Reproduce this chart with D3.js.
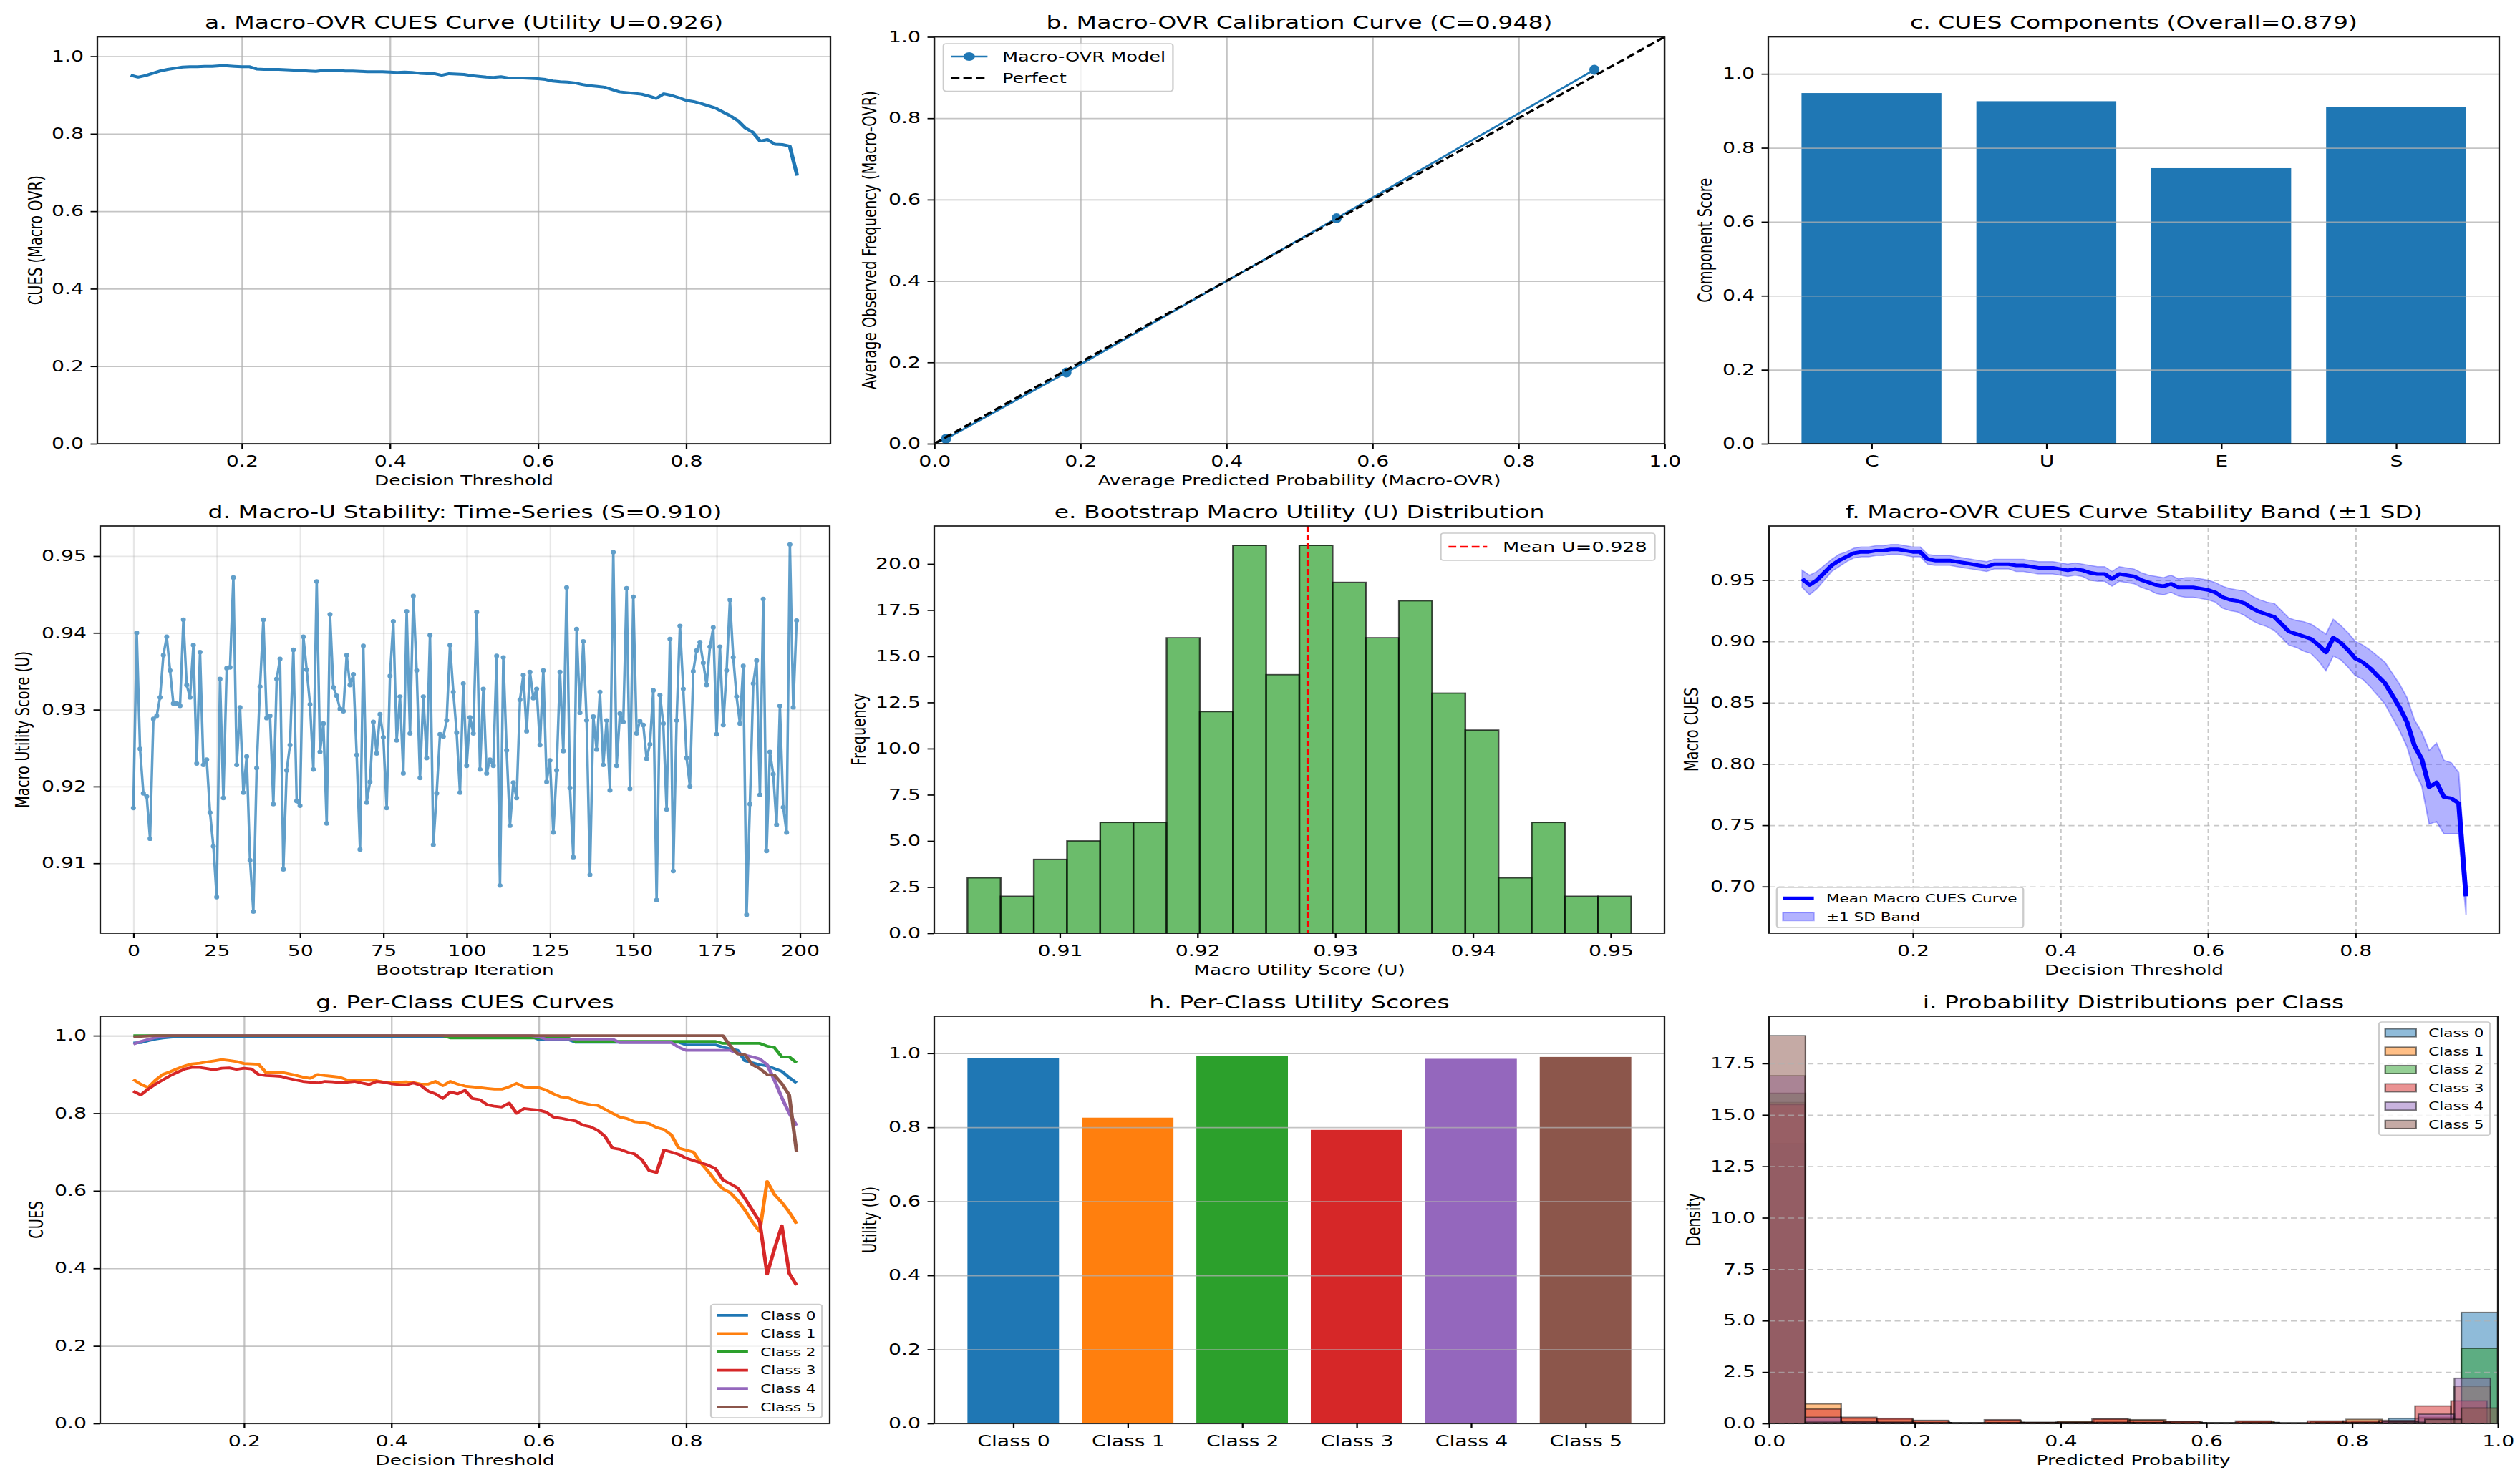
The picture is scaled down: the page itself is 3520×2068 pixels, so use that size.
<!DOCTYPE html>
<html><head><meta charset="utf-8">
<script src="https://cdn.jsdelivr.net/npm/d3@7/dist/d3.min.js"></script>
<style>html,body{margin:0;padding:0;background:#fff;overflow:hidden}</style>
</head><body>
<svg id="fig"></svg>
<script>
// ================= DATA =================
const thresholds = d3.range(5, 96).map(i => i / 100);

const macroCues = [
 0.951,0.946,0.950,0.956,0.962,0.966,0.969,0.972,0.973,0.973,
 0.974,0.974,0.975,0.975,0.974,0.973,0.973,0.967,0.966,0.966,
 0.966,0.965,0.964,0.963,0.962,0.961,0.963,0.963,0.963,0.962,
 0.962,0.961,0.960,0.960,0.960,0.959,0.958,0.959,0.958,0.956,
 0.955,0.955,0.951,0.955,0.954,0.953,0.950,0.948,0.946,0.945,
 0.947,0.944,0.944,0.944,0.943,0.942,0.940,0.936,0.934,0.933,
 0.931,0.927,0.924,0.922,0.920,0.914,0.908,0.906,0.904,0.902,
 0.897,0.891,0.903,0.899,0.893,0.886,0.883,0.878,0.872,0.866,
 0.856,0.846,0.834,0.815,0.804,0.781,0.785,0.773,0.772,0.768,
 0.692];

const macroCuesSD = [
 0.007,0.008,0.007,0.006,0.005,0.005,0.004,0.004,0.004,0.004,
 0.004,0.004,0.004,0.004,0.004,0.004,0.004,0.004,0.004,0.004,
 0.004,0.004,0.004,0.004,0.004,0.004,0.004,0.004,0.004,0.005,
 0.005,0.005,0.005,0.005,0.005,0.005,0.005,0.005,0.005,0.006,
 0.006,0.006,0.006,0.006,0.006,0.006,0.006,0.006,0.007,0.007,
 0.007,0.007,0.008,0.008,0.008,0.008,0.008,0.009,0.009,0.009,
 0.010,0.010,0.010,0.010,0.011,0.011,0.011,0.011,0.012,0.012,
 0.013,0.015,0.015,0.014,0.014,0.014,0.014,0.015,0.016,0.017,
 0.018,0.019,0.020,0.021,0.022,0.030,0.032,0.030,0.029,0.025,
 0.015];

const calibPred = [0.016, 0.181, 0.551, 0.904];
const calibObs  = [0.012, 0.175, 0.554, 0.919];

const componentNames  = ['C', 'U', 'E', 'S'];
const componentScores = [0.948, 0.926, 0.745, 0.910];

const bootstrapU = [
 0.9172,0.9400,0.9249,0.9191,0.9187,0.9132,0.9288,0.9292,0.9316,0.9371,
 0.9395,0.9351,0.9308,0.9308,0.9305,0.9417,0.9332,0.9316,0.9384,0.9230,
 0.9375,0.9228,0.9235,0.9166,0.9122,0.9056,0.9340,0.9185,0.9354,0.9355,
 0.9472,0.9228,0.9303,0.9192,0.9239,0.9104,0.9037,0.9224,0.9330,0.9417,
 0.9289,0.9292,0.9177,0.9340,0.9366,0.9092,0.9221,0.9254,0.9378,0.9181,
 0.9175,0.9395,0.9352,0.9307,0.9222,0.9467,0.9245,0.9282,0.9152,0.9424,
 0.9329,0.9318,0.9301,0.9298,0.9371,0.9332,0.9346,0.9241,0.9118,0.9383,
 0.9179,0.9206,0.9284,0.9243,0.9294,0.9264,0.9172,0.9344,0.9415,0.9260,
 0.9317,0.9217,0.9428,0.9269,0.9448,0.9351,0.9211,0.9317,0.9237,0.9397,
 0.9124,0.9191,0.9268,0.9265,0.9286,0.9384,0.9323,0.9270,0.9192,0.9334,
 0.9227,0.9290,0.9269,0.9427,0.9222,0.9327,0.9217,0.9235,0.9227,0.9370,
 0.9071,0.9368,0.9247,0.9149,0.9205,0.9185,0.9313,0.9345,0.9272,0.9349,
 0.9315,0.9327,0.9254,0.9351,0.9206,0.9234,0.9140,0.9221,0.9349,0.9246,
 0.9459,0.9198,0.9108,0.9405,0.9296,0.9389,0.9286,0.9085,0.9291,0.9248,
 0.9323,0.9228,0.9286,0.9195,0.9505,0.9227,0.9295,0.9284,0.9458,0.9197,
 0.9447,0.9269,0.9285,0.9280,0.9236,0.9255,0.9325,0.9052,0.9319,0.9282,
 0.9170,0.9392,0.9090,0.9286,0.9409,0.9327,0.9237,0.9200,0.9350,0.9377,
 0.9388,0.9361,0.9332,0.9382,0.9407,0.9268,0.9382,0.9280,0.9351,0.9443,
 0.9368,0.9317,0.9282,0.9357,0.9033,0.9177,0.9334,0.9364,0.9189,0.9444,
 0.9116,0.9245,0.9216,0.9150,0.9305,0.9173,0.9140,0.9515,0.9303,0.9416];

const histCounts = [3,2,4,5,6,6,16,12,21,14,21,19,16,18,13,11,3,6,2,2];
const meanU = 0.928;

const classNames = ['Class 0','Class 1','Class 2','Class 3','Class 4','Class 5'];
const classColors = ['#1f77b4','#ff7f0e','#2ca02c','#d62728','#9467bd','#8c564b'];

const cuesClass0 = [
 0.981,0.982,0.987,0.991,0.994,0.996,0.997,0.997,0.997,0.997,
 0.997,0.997,0.997,0.997,0.997,0.997,0.997,0.997,0.997,0.997,
 0.997,0.997,0.997,0.997,0.997,0.997,0.997,0.997,0.997,0.997,
 0.997,0.998,0.998,0.998,0.998,0.998,0.998,0.998,0.998,0.998,
 0.998,0.998,0.998,0.998,0.998,0.998,0.998,0.998,0.998,0.998,
 0.998,0.998,0.998,0.998,0.998,0.990,0.990,0.990,0.990,0.990,
 0.983,0.983,0.983,0.983,0.983,0.983,0.983,0.983,0.983,0.983,
 0.983,0.983,0.983,0.983,0.983,0.976,0.976,0.976,0.976,0.976,
 0.970,0.966,0.962,0.935,0.930,0.925,0.922,0.915,0.908,0.892,
 0.878];
const cuesClass1 = [
 0.887,0.875,0.866,0.885,0.900,0.907,0.915,0.922,0.927,0.929,
 0.932,0.935,0.938,0.936,0.933,0.928,0.927,0.926,0.905,0.905,
 0.906,0.902,0.898,0.893,0.890,0.900,0.897,0.895,0.893,0.886,
 0.885,0.886,0.885,0.884,0.880,0.878,0.880,0.881,0.879,0.875,
 0.875,0.882,0.871,0.882,0.875,0.870,0.868,0.866,0.864,0.862,
 0.862,0.868,0.877,0.868,0.866,0.866,0.860,0.850,0.842,0.840,
 0.832,0.826,0.822,0.820,0.810,0.800,0.790,0.786,0.778,0.776,
 0.773,0.763,0.758,0.744,0.710,0.705,0.700,0.672,0.650,0.625,
 0.605,0.595,0.575,0.550,0.520,0.495,0.624,0.590,0.570,0.545,
 0.515];
const cuesClass2 = [
 1.000,1.000,1.000,1.000,1.000,1.000,1.000,1.000,1.000,1.000,
 1.000,1.000,1.000,1.000,1.000,1.000,1.000,1.000,1.000,1.000,
 1.000,1.000,1.000,1.000,1.000,1.000,1.000,1.000,1.000,1.000,
 1.000,1.000,1.000,1.000,1.000,1.000,1.000,1.000,1.000,1.000,
 1.000,1.000,1.000,0.994,0.994,0.994,0.994,0.994,0.994,0.994,
 0.994,0.994,0.994,0.994,0.994,0.994,0.994,0.994,0.994,0.994,
 0.985,0.985,0.985,0.985,0.985,0.985,0.985,0.985,0.985,0.985,
 0.985,0.985,0.985,0.985,0.985,0.985,0.985,0.985,0.985,0.985,
 0.980,0.980,0.980,0.980,0.980,0.980,0.973,0.969,0.945,0.945,
 0.930];
const cuesClass3 = [
 0.857,0.847,0.862,0.875,0.886,0.897,0.906,0.914,0.918,0.918,
 0.915,0.912,0.916,0.917,0.913,0.916,0.914,0.900,0.897,0.896,
 0.895,0.890,0.886,0.882,0.880,0.878,0.882,0.881,0.879,0.880,
 0.882,0.878,0.874,0.882,0.880,0.876,0.874,0.873,0.878,0.872,
 0.857,0.850,0.838,0.855,0.850,0.859,0.838,0.835,0.822,0.818,
 0.816,0.826,0.800,0.812,0.810,0.808,0.803,0.790,0.787,0.783,
 0.780,0.769,0.765,0.756,0.740,0.710,0.707,0.700,0.695,0.680,
 0.652,0.647,0.705,0.700,0.694,0.684,0.678,0.672,0.666,0.657,
 0.628,0.618,0.607,0.580,0.550,0.520,0.385,0.450,0.510,0.387,
 0.356];
const cuesClass4 = [
 0.978,0.985,0.990,0.995,0.998,1.000,1.000,1.000,1.000,1.000,
 1.000,1.000,1.000,1.000,1.000,1.000,1.000,1.000,1.000,1.000,
 1.000,1.000,1.000,1.000,1.000,1.000,1.000,1.000,1.000,1.000,
 1.000,1.000,1.000,1.000,1.000,1.000,1.000,1.000,1.000,1.000,
 1.000,1.000,1.000,1.000,1.000,1.000,1.000,1.000,1.000,1.000,
 1.000,1.000,1.000,1.000,1.000,0.997,0.991,0.991,0.991,0.991,
 0.991,0.991,0.991,0.991,0.991,0.991,0.982,0.982,0.982,0.982,
 0.982,0.982,0.982,0.982,0.970,0.962,0.962,0.962,0.962,0.962,
 0.962,0.962,0.955,0.950,0.945,0.940,0.925,0.885,0.840,0.800,
 0.768];
const cuesClass5 = [
 0.997,0.998,0.999,1.000,1.000,1.000,1.000,1.000,1.000,1.000,
 1.000,1.000,1.000,1.000,1.000,1.000,1.000,1.000,1.000,1.000,
 1.000,1.000,1.000,1.000,1.000,1.000,1.000,1.000,1.000,1.000,
 1.000,1.000,1.000,1.000,1.000,1.000,1.000,1.000,1.000,1.000,
 1.000,1.000,1.000,1.000,1.000,1.000,1.000,1.000,1.000,1.000,
 1.000,1.000,1.000,1.000,1.000,1.000,1.000,1.000,1.000,1.000,
 1.000,1.000,1.000,1.000,1.000,1.000,1.000,1.000,1.000,1.000,
 1.000,1.000,1.000,1.000,1.000,1.000,1.000,1.000,1.000,1.000,
 1.000,0.973,0.953,0.950,0.925,0.915,0.900,0.898,0.876,0.847,
 0.700];

const classUtility = [0.987, 0.826, 0.993, 0.793, 0.985, 0.990];

// per-class probability histograms (20 bins between 0 and each class's max prob)
const probBinMax = [1.000, 0.990, 1.000, 0.985, 0.990, 1.000];
const probDensity0 = [13.6,0.12,0.06,0.05,0.04,0.02,0.05,0.03,0.04,0.06,0.05,0.03,0.02,0.05,0.02,0.04,0.05,0.25,0.20,5.40];
const probDensity1 = [15.6,0.95,0.25,0.20,0.12,0.03,0.15,0.05,0.10,0.20,0.18,0.08,0.03,0.10,0.02,0.10,0.20,0.10,0.30,1.80];
const probDensity2 = [16.05,0.10,0.05,0.05,0.03,0.01,0.03,0.02,0.03,0.05,0.05,0.02,0.01,0.03,0.01,0.03,0.05,0.10,0.20,3.65];
const probDensity3 = [15.5,0.70,0.30,0.25,0.15,0.03,0.18,0.05,0.06,0.22,0.15,0.10,0.03,0.12,0.02,0.12,0.12,0.15,0.85,1.10];
const probDensity4 = [16.9,0.30,0.08,0.06,0.04,0.01,0.04,0.02,0.03,0.05,0.04,0.02,0.01,0.03,0.01,0.03,0.04,0.10,0.45,2.20];
const probDensity5 = [18.85,0.05,0.03,0.03,0.02,0.01,0.02,0.01,0.02,0.03,0.03,0.02,0.01,0.02,0.01,0.02,0.02,0.05,0.20,0.75];

const ticksThreshold = [0.2, 0.4, 0.6, 0.8];
const ticksUnit = [0, 0.2, 0.4, 0.6, 0.8, 1.0];
const ticksIter = [0, 25, 50, 75, 100, 125, 150, 175, 200];
const ticksU = [0.91, 0.92, 0.93, 0.94, 0.95];
const ticksFreq = [0, 2.5, 5, 7.5, 10, 12.5, 15, 17.5, 20];
const ticksBandY = [0.70, 0.75, 0.80, 0.85, 0.90, 0.95];
const ticksDensity = [0, 2.5, 5, 7.5, 10, 12.5, 15, 17.5];

// ================= RENDER =================
const SX = 1.35;              // horizontal stretch of the figure
const W = 3520, H = 2068, VW = W / SX;
const FONT = '"DejaVu Sans", "Liberation Sans", sans-serif';
const FS_TITLE = 24.5, FS_TICK = 21, FS_LABEL = 19.5;

const svg = d3.select('#fig')
  .attr('width', W).attr('height', H)
  .attr('viewBox', `0 0 ${VW} ${H}`)
  .attr('preserveAspectRatio', 'none')
  .style('display', 'block');
svg.append('rect').attr('width', VW).attr('height', H).attr('fill', '#fff');

function styleTicks(sel) {
  sel.attr('font-family', null).attr('font-size', null);
  sel.select('.domain').remove();
  sel.selectAll('.tick line').attr('stroke', '#000').attr('stroke-width', 1.7);
  sel.selectAll('.tick text').attr('fill', '#000')
    .style('font-size', FS_TICK + 'px').style('font-family', FONT);
}

function makeAxes(o) {
  const L = o.left / SX, R = o.right / SX, T = o.top, B = o.bottom;
  const x = d3.scaleLinear().domain(o.xd).range([L, R]);
  const y = d3.scaleLinear().domain(o.yd).range([B, T]);
  const g = svg.append('g');
  const below = g.append('g'), content = g.append('g'), above = g.append('g');
  const gs = Object.assign({ color: '#b0b0b0', width: 1.7, opacity: 1, dash: null, above: false }, o.grid || {});
  const gridLayer = gs.above ? content.append('g').attr('class', 'grid-above') : below;
  function styleGrid(sel) {
    sel.attr('font-family', null).attr('font-size', null);
    sel.select('.domain').remove();
    sel.selectAll('.tick text').remove();
    sel.selectAll('.tick line').attr('stroke', gs.color).attr('stroke-width', gs.width)
      .attr('stroke-opacity', gs.opacity).attr('stroke-dasharray', gs.dash);
  }
  if (o.gridX) gridLayer.append('g').attr('transform', `translate(0,${B})`)
    .call(d3.axisBottom(x).tickValues(o.xt).tickSize(-(B - T)).tickFormat('')).call(styleGrid);
  if (o.gridY) gridLayer.append('g').attr('transform', `translate(${L},0)`)
    .call(d3.axisLeft(y).tickValues(o.yt).tickSize(-(R - L)).tickFormat('')).call(styleGrid);

  above.append('rect').attr('x', L).attr('y', T).attr('width', R - L).attr('height', B - T)
    .attr('fill', 'none').attr('stroke', '#1a1a1a').attr('stroke-width', 1.7);
  above.append('g').attr('transform', `translate(0,${B})`)
    .call(d3.axisBottom(x).tickValues(o.xt).tickFormat(o.xf).tickSize(7).tickPadding(10).tickSizeOuter(0))
    .call(styleTicks);
  above.append('g').attr('transform', `translate(${L},0)`)
    .call(d3.axisLeft(y).tickValues(o.yt).tickFormat(o.yf).tickSize(7).tickPadding(7).tickSizeOuter(0))
    .call(styleTicks);

  above.append('text').attr('x', (L + R) / 2).attr('y', T - 11).attr('text-anchor', 'middle')
    .style('font-family', FONT).style('font-size', FS_TITLE + 'px').attr('fill', '#000').text(o.title);
  above.append('text').attr('x', (L + R) / 2).attr('y', B + 58).attr('text-anchor', 'middle')
    .style('font-family', FONT).style('font-size', FS_LABEL + 'px').attr('fill', '#000').text(o.xlabel);
  const ly = (T + B) / 2, lx = L - o.ylOff;
  above.append('text').attr('transform', `translate(${lx},${ly}) rotate(-90)`).attr('dy', '0.35em')
    .attr('text-anchor', 'middle')
    .style('font-family', FONT).style('font-size', FS_LABEL + 'px').attr('fill', '#000').text(o.ylabel);
  return { g, x, y, content, above, L, R, T, B };
}

function legend(ax, o) {
  const fs = o.fs, pad = 0.4 * fs, hl = 2 * fs, htp = 0.8 * fs, ls = 0.5 * fs, bap = 0.5 * fs, rh = 1.1 * fs;
  const g = ax.above.append('g');
  const frame = g.append('rect');
  const texts = o.items.map(it => g.append('text').text(it.label)
    .style('font-size', fs + 'px').style('font-family', FONT).attr('fill', '#000'));
  const tw = d3.max(texts, t => t.node().getComputedTextLength());
  const n = o.items.length;
  const bw = 2 * pad + hl + htp + tw, bh = 2 * pad + n * rh + (n - 1) * ls;
  const bx = o.corner[1] === 'l' ? ax.L + bap : ax.R - bap - bw;
  const by = o.corner[0] === 'u' ? ax.T + bap : ax.B - bap - bh;
  frame.attr('x', bx).attr('y', by).attr('width', bw).attr('height', bh).attr('rx', 3)
    .attr('fill', '#fff').attr('fill-opacity', 0.8).attr('stroke', '#cccccc').attr('stroke-width', 1.7);
  o.items.forEach((it, i) => {
    const cy = by + pad + i * (rh + ls) + rh / 2;
    const hx0 = bx + pad, hx1 = hx0 + hl;
    if (it.type === 'patch') {
      g.append('rect').attr('x', hx0).attr('y', cy - 0.35 * fs).attr('width', hl).attr('height', 0.7 * fs)
        .attr('fill', it.color).attr('fill-opacity', it.opacity)
        .attr('stroke', it.edge || 'none').attr('stroke-opacity', it.edgeOpacity || 1).attr('stroke-width', 1.7);
    } else {
      g.append('line').attr('x1', hx0).attr('x2', hx1).attr('y1', cy).attr('y2', cy)
        .attr('stroke', it.color).attr('stroke-width', it.width).attr('stroke-dasharray', it.dash || null);
      if (it.marker) g.append('ellipse').attr('cx', (hx0 + hx1) / 2).attr('cy', cy)
        .attr('rx', it.marker).attr('ry', it.marker).attr('fill', it.color);
    }
    texts[i].attr('x', hx1 + htp).attr('y', cy).attr('dy', '0.36em');
  });
}

const f1 = d3.format('.1f'), f2 = d3.format('.2f');
const xThrDomain = [0.005, 0.995];

// ---------- a ----------
{
  const ax = makeAxes({ left: 136, right: 1160, top: 51.5, bottom: 620,
    xd: xThrDomain, yd: [0, 1.05], xt: ticksThreshold, yt: ticksUnit, xf: f1, yf: f1,
    gridX: true, gridY: true, grid: { opacity: 0.75 },
    title: 'a. Macro-OVR CUES Curve (Utility U=0.926)', xlabel: 'Decision Threshold',
    ylabel: 'CUES (Macro OVR)', ylOff: 64 });
  ax.content.append('path').datum(thresholds.map((t, i) => [t, macroCues[i]]))
    .attr('fill', 'none').attr('stroke', '#1f77b4').attr('stroke-width', 4).attr('stroke-linejoin', 'round')
    .attr('d', d3.line().x(d => ax.x(d[0])).y(d => ax.y(d[1])));
}

// ---------- b ----------
{
  const ax = makeAxes({ left: 1305, right: 2325, top: 51.5, bottom: 620,
    xd: [0, 1], yd: [0, 1], xt: ticksUnit, yt: ticksUnit, xf: f1, yf: f1,
    gridX: true, gridY: true, grid: { opacity: 0.75 },
    title: 'b. Macro-OVR Calibration Curve (C=0.948)', xlabel: 'Average Predicted Probability (Macro-OVR)',
    ylabel: 'Average Observed Frequency (Macro-OVR)', ylOff: 67 });
  const pts = calibPred.map((p, i) => [p, calibObs[i]]);
  const line = d3.line().x(d => ax.x(d[0])).y(d => ax.y(d[1]));
  ax.content.append('path').datum([[0, 0], ...pts]).attr('fill', 'none')
    .attr('stroke', '#1f77b4').attr('stroke-width', 2.6).attr('d', line);
  ax.content.selectAll('.pt').data(pts).join('ellipse')
    .attr('cx', d => ax.x(d[0])).attr('cy', d => ax.y(d[1])).attr('rx', 5.2).attr('ry', 7).attr('fill', '#1f77b4');
  ax.content.append('path').datum([[0, 0], [1, 1]]).attr('fill', 'none')
    .attr('stroke', '#000').attr('stroke-width', 3).attr('stroke-dasharray', '9,4').attr('d', line);
  legend(ax, { corner: 'ul', fs: 19, items: [
    { label: 'Macro-OVR Model', color: '#1f77b4', width: 2.6, marker: 6 },
    { label: 'Perfect', color: '#000', width: 3, dash: '9,4' }] });
}

// ---------- c ----------
{
  const ax = makeAxes({ left: 2470, right: 3491, top: 51.5, bottom: 620,
    xd: [-0.59, 3.59], yd: [0, 1.1], xt: [0, 1, 2, 3], yt: ticksUnit, xf: i => componentNames[i], yf: f1,
    gridX: false, gridY: true, grid: { opacity: 0.75, above: true },
    title: 'c. CUES Components (Overall=0.879)', xlabel: '',
    ylabel: 'Component Score', ylOff: 65 });
  ax.content.insert('g', '.grid-above').selectAll('rect').data(componentScores).join('rect')
    .attr('x', (d, i) => ax.x(i - 0.4)).attr('width', (d, i) => ax.x(i + 0.4) - ax.x(i - 0.4))
    .attr('y', d => ax.y(d)).attr('height', d => ax.y(0) - ax.y(d)).attr('fill', '#1f77b4');
}

// ---------- d ----------
{
  const ext = d3.extent(bootstrapU), pad = (ext[1] - ext[0]) * 0.05;
  const n = bootstrapU.length;
  const ax = makeAxes({ left: 140, right: 1159, top: 735, bottom: 1304,
    xd: [-(n - 1) * 0.05, (n - 1) * 1.05], yd: [ext[0] - pad, ext[1] + pad], xt: ticksIter, yt: ticksU,
    xf: d3.format('d'), yf: f2,
    gridX: true, gridY: true, grid: { opacity: 0.3 },
    title: 'd. Macro-U Stability: Time-Series (S=0.910)', xlabel: 'Bootstrap Iteration',
    ylabel: 'Macro Utility Score (U)', ylOff: 80 });
  const grp = ax.content.append('g').attr('opacity', 0.7);
  grp.append('path').datum(bootstrapU).attr('fill', 'none').attr('stroke', '#1f77b4').attr('stroke-width', 2.6)
    .attr('stroke-linejoin', 'round')
    .attr('d', d3.line().x((d, i) => ax.x(i)).y(d => ax.y(d)));
  grp.selectAll('ellipse').data(bootstrapU).join('ellipse')
    .attr('cx', (d, i) => ax.x(i)).attr('cy', d => ax.y(d)).attr('rx', 2.6).attr('ry', 3.2).attr('fill', '#1f77b4');
}

// ---------- e ----------
{
  const ext = d3.extent(bootstrapU), bw = (ext[1] - ext[0]) / histCounts.length, pad = (ext[1] - ext[0]) * 0.05;
  const ymax = d3.max(histCounts) * 1.05;
  const ax = makeAxes({ left: 1305, right: 2325, top: 735, bottom: 1304,
    xd: [ext[0] - pad, ext[1] + pad], yd: [0, ymax], xt: ticksU, yt: ticksFreq, xf: f2, yf: f1,
    gridX: false, gridY: false,
    title: 'e. Bootstrap Macro Utility (U) Distribution', xlabel: 'Macro Utility Score (U)',
    ylabel: 'Frequency', ylOff: 78 });
  ax.content.selectAll('rect').data(histCounts).join('rect')
    .attr('x', (d, i) => ax.x(ext[0] + i * bw)).attr('width', (d, i) => ax.x(ext[0] + (i + 1) * bw) - ax.x(ext[0] + i * bw))
    .attr('y', d => ax.y(d)).attr('height', d => ax.y(0) - ax.y(d))
    .attr('fill', '#2ca02c').attr('fill-opacity', 0.7)
    .attr('stroke', '#000').attr('stroke-opacity', 0.7).attr('stroke-width', 1.8);
  ax.content.append('line').attr('x1', ax.x(meanU)).attr('x2', ax.x(meanU)).attr('y1', ax.T).attr('y2', ax.B)
    .attr('stroke', '#ff0000').attr('stroke-width', 2.4).attr('stroke-dasharray', '8,4');
  legend(ax, { corner: 'ur', fs: 20, items: [
    { label: 'Mean U=' + meanU.toFixed(3), color: '#ff0000', width: 2.4, dash: '8,4' }] });
}

// ---------- f ----------
{
  const lo = macroCues.map((m, i) => m - macroCuesSD[i]), hi = macroCues.map((m, i) => m + macroCuesSD[i]);
  const mn = d3.min(lo), mx = d3.max(hi), pad = (mx - mn) * 0.05;
  const ax = makeAxes({ left: 2471, right: 3491, top: 735, bottom: 1304,
    xd: xThrDomain, yd: [mn - pad, mx + pad], xt: ticksThreshold, yt: ticksBandY, xf: f1, yf: f2,
    gridX: true, gridY: true, grid: { opacity: 0.7, dash: '6,4' },
    title: 'f. Macro-OVR CUES Curve Stability Band (\u00b11 SD)', xlabel: 'Decision Threshold',
    ylabel: 'Macro CUES', ylOff: 80 });
  ax.content.append('path').datum(thresholds.map((t, i) => i))
    .attr('fill', '#0000ff').attr('fill-opacity', 0.3)
    .attr('stroke', '#0000ff').attr('stroke-opacity', 0.3).attr('stroke-width', 1.5)
    .attr('d', d3.area().x(i => ax.x(thresholds[i])).y0(i => ax.y(lo[i])).y1(i => ax.y(hi[i])));
  ax.content.append('path').datum(thresholds.map((t, i) => [t, macroCues[i]]))
    .attr('fill', 'none').attr('stroke', '#0000ff').attr('stroke-width', 5).attr('stroke-linejoin', 'round')
    .attr('d', d3.line().x(d => ax.x(d[0])).y(d => ax.y(d[1])));
  legend(ax, { corner: 'll', fs: 16, items: [
    { label: 'Mean Macro CUES Curve', color: '#0000ff', width: 5 },
    { label: '\u00b11 SD Band', type: 'patch', color: '#0000ff', opacity: 0.3, edge: '#0000ff', edgeOpacity: 0.3 }] });
}

// ---------- g ----------
{
  const series = [cuesClass0, cuesClass1, cuesClass2, cuesClass3, cuesClass4, cuesClass5];
  const ax = makeAxes({ left: 140, right: 1159, top: 1420, bottom: 1989,
    xd: xThrDomain, yd: [0, 1.05], xt: ticksThreshold, yt: ticksUnit, xf: f1, yf: f1,
    gridX: true, gridY: true, grid: { opacity: 0.75 },
    title: 'g. Per-Class CUES Curves', xlabel: 'Decision Threshold',
    ylabel: 'CUES', ylOff: 66 });
  const line = d3.line().x((d, i) => ax.x(thresholds[i])).y(d => ax.y(d));
  series.forEach((s, k) => ax.content.append('path').datum(s).attr('fill', 'none')
    .attr('stroke', classColors[k]).attr('stroke-width', 3.8).attr('stroke-linejoin', 'round').attr('d', line));
  legend(ax, { corner: 'lr', fs: 16, items: classNames.map((c, k) => ({ label: c, color: classColors[k], width: 3.8 })) });
}

// ---------- h ----------
{
  const ax = makeAxes({ left: 1305, right: 2325, top: 1420, bottom: 1989,
    xd: [-0.69, 5.69], yd: [0, 1.1], xt: d3.range(6), yt: ticksUnit, xf: i => classNames[i], yf: f1,
    gridX: false, gridY: true, grid: { opacity: 0.75, above: true },
    title: 'h. Per-Class Utility Scores', xlabel: '',
    ylabel: 'Utility (U)', ylOff: 67 });
  ax.content.insert('g', '.grid-above').selectAll('rect').data(classUtility).join('rect')
    .attr('x', (d, i) => ax.x(i - 0.4)).attr('width', (d, i) => ax.x(i + 0.4) - ax.x(i - 0.4))
    .attr('y', d => ax.y(d)).attr('height', d => ax.y(0) - ax.y(d)).attr('fill', (d, i) => classColors[i]);
}

// ---------- i ----------
{
  const dens = [probDensity0, probDensity1, probDensity2, probDensity3, probDensity4, probDensity5];
  const ymax = d3.max(dens, a => d3.max(a)) * 1.05;
  const ax = makeAxes({ left: 2471, right: 3489, top: 1420, bottom: 1989,
    xd: [0, 1], yd: [0, ymax], xt: ticksUnit, yt: ticksDensity, xf: f1, yf: f1,
    gridX: false, gridY: true, grid: { opacity: 0.7, dash: '6,4', above: true },
    title: 'i. Probability Distributions per Class', xlabel: 'Predicted Probability',
    ylabel: 'Density', ylOff: 78 });
  const hg = ax.content.insert('g', '.grid-above');
  dens.forEach((arr, k) => {
    const w = probBinMax[k] / arr.length;
    hg.append('g').selectAll('rect').data(arr).join('rect')
      .attr('x', (d, j) => ax.x(j * w)).attr('width', (d, j) => ax.x((j + 1) * w) - ax.x(j * w))
      .attr('y', d => ax.y(d)).attr('height', d => ax.y(0) - ax.y(d))
      .attr('fill', classColors[k]).attr('fill-opacity', 0.5)
      .attr('stroke', '#000').attr('stroke-opacity', 0.5).attr('stroke-width', 1.7);
  });
  legend(ax, { corner: 'ur', fs: 16, items: classNames.map((c, k) => ({
    label: c, type: 'patch', color: classColors[k], opacity: 0.5, edge: '#000', edgeOpacity: 0.5 })) });
}
</script>
</body></html>
